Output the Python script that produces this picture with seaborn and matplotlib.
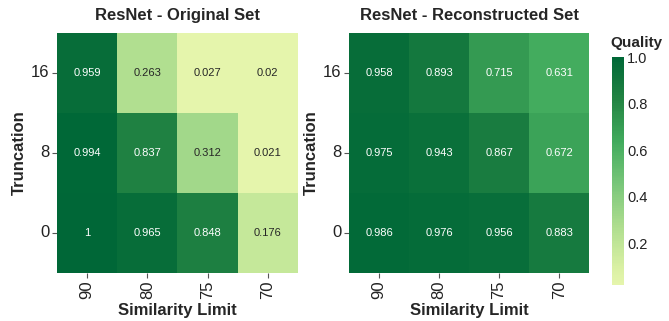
import numpy as np
import pandas as pd
import matplotlib
matplotlib.use("Agg")
import matplotlib.pyplot as plt
from matplotlib.colors import LinearSegmentedColormap
import seaborn as sns

# Similarity limits (columns) and truncation levels (rows, top to bottom)
similarity = ["90", "80", "75", "70"]
truncation = ["16", "8", "0"]

original_16 = [0.959, 0.263, 0.027, 0.02]
original_8 = [0.994, 0.837, 0.312, 0.021]
original_0 = [1.0, 0.965, 0.848, 0.176]

reconstructed_16 = [0.958, 0.893, 0.715, 0.631]
reconstructed_8 = [0.975, 0.943, 0.867, 0.672]
reconstructed_0 = [0.986, 0.976, 0.956, 0.883]

sns.set_theme(style="white")
plt.rcParams["font.family"] = ["Liberation Sans", "DejaVu Sans"]

original = pd.DataFrame([original_16, original_8, original_0],
                        index=truncation, columns=similarity)
reconstructed = pd.DataFrame([reconstructed_16, reconstructed_8, reconstructed_0],
                             index=truncation, columns=similarity)

# Green palette: the light-to-dark middle portion of YlGn
base = plt.get_cmap("YlGn")
cmap = LinearSegmentedColormap.from_list(
    "quality", base(np.linspace(0.2, 0.875, 256)))

vmin = min(original.values.min(), reconstructed.values.min())
vmax = max(original.values.max(), reconstructed.values.max())

fig = plt.figure(figsize=(6.69, 3.21), dpi=100)
ax1 = fig.add_axes([0.0852, 0.1495, 0.360, 0.748])
ax2 = fig.add_axes([0.5217, 0.1495, 0.359, 0.748])
cax = fig.add_axes([0.915, 0.112, 0.018, 0.710])

annot_kws = {"fontsize": 8}
sns.heatmap(original, ax=ax1, cmap=cmap, vmin=vmin, vmax=vmax, annot=True,
            fmt="g", annot_kws=annot_kws, cbar=False)
sns.heatmap(reconstructed, ax=ax2, cmap=cmap, vmin=vmin, vmax=vmax, annot=True,
            fmt="g", annot_kws=annot_kws, cbar_ax=cax)

for ax, title in [(ax1, "ResNet - Original Set"), (ax2, "ResNet - Reconstructed Set")]:
    ax.set_title(title, fontsize=12, fontweight="bold", pad=9)
    ax.set_xlabel("Similarity Limit", fontsize=12, fontweight="bold", labelpad=3)
    ax.set_ylabel("Truncation", fontsize=12, fontweight="bold", labelpad=3)
    ax.tick_params(axis="both", bottom=True, left=True, length=3.5, width=0.8,
                   color="#555555", labelsize=12, labelcolor="#222222", pad=2)
    ax.tick_params(axis="x", labelrotation=90)
    ax.tick_params(axis="y", labelrotation=0)

cbar = ax2.collections[0].colorbar
cbar.outline.set_visible(False)
cbar.set_ticks([0.2, 0.4, 0.6, 0.8, 1.0])
cbar.ax.tick_params(length=0, labelsize=10.5, labelcolor="#222222", pad=2)
fig.text(0.912, 0.845, "Quality", fontsize=11, fontweight="bold", ha="left", va="bottom")

fig.savefig("out.png", dpi=100)
